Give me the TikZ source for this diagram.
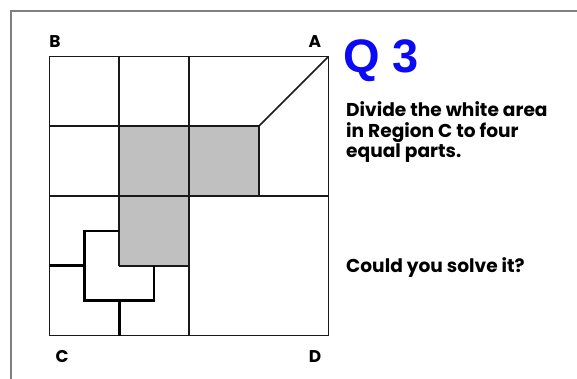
\documentclass[tikz,border=0pt]{standalone}
\usepackage{fontspec}
\newfontfamily\gothic{Poppins}
\newfontfamily\arialf{Liberation Sans}
\definecolor{qblue}{RGB}{10,10,245}
\definecolor{cellgray}{RGB}{192,192,192}
\definecolor{framegray}{RGB}{128,128,128}
\tikzset{
  gridline/.style={line width=1.7pt, draw=black!90},
  solline/.style={line width=2.6pt, draw=black, line cap=butt, line join=miter},
  lbl/.style={font=\gothic\bfseries\fontsize{17}{17}\selectfont, inner sep=0pt},
  body/.style={font=\gothic\bfseries\fontsize{18.6}{18.6}\selectfont, inner sep=0pt, anchor=base west},
}
\begin{document}
\begin{tikzpicture}[x=1pt,y=-1pt]
\useasboundingbox (0,0) rectangle (577,379);
\fill[white] (0,0) rectangle (577,379);
\draw[framegray, line width=2pt] (11,380) -- (11,11) -- (578,11);
\begin{scope}[shift={(49.5,335.5)}, x=69.75pt, y=69.75pt]
  \fill[cellgray] (1,2) rectangle (3,3);
  \fill[cellgray] (1,1) rectangle (2,2);
  \draw[gridline] (0,0) rectangle (4,4);
  \draw[gridline] (0,3) -- (3,3);
  \draw[gridline] (0,2) -- (4,2);
  \draw[gridline] (1,1) -- (2,1);
  \draw[gridline] (1,4) -- (1,1);
  \draw[gridline] (2,4) -- (2,0);
  \draw[gridline] (3,3) -- (3,2);
  \draw[gridline] (3,3) -- (4,4);
  \draw[solline] (0,1) -- (0.5,1) -- (0.5,1.5) -- (1,1.5);
  \draw[solline] (0.5,1) -- (0.5,0.5) -- (1.5,0.5) -- (1.5,1);
  \draw[solline] (1,0.5) -- (1,0);
\end{scope}
\node[lbl] (B) at (55,42) {B};
\node[lbl] (A) at (315,42) {A};
\node[lbl] (C) at (62,357) {C};
\node[lbl] (D) at (315,357) {D};
\node[font=\arialf\bfseries\fontsize{47}{47}\selectfont, text=qblue, inner sep=0pt, anchor=base west] (Q) at (343,73) {Q 3};
\node[body] (t1) at (346,116.5) {Divide the white area};
\node[body] (t2) at (346,137.5) {in Region C to four};
\node[body] (t3) at (346,158) {equal parts.};
\node[body] (t4) at (346,272) {Could you solve it?};
\end{tikzpicture}
\end{document}
